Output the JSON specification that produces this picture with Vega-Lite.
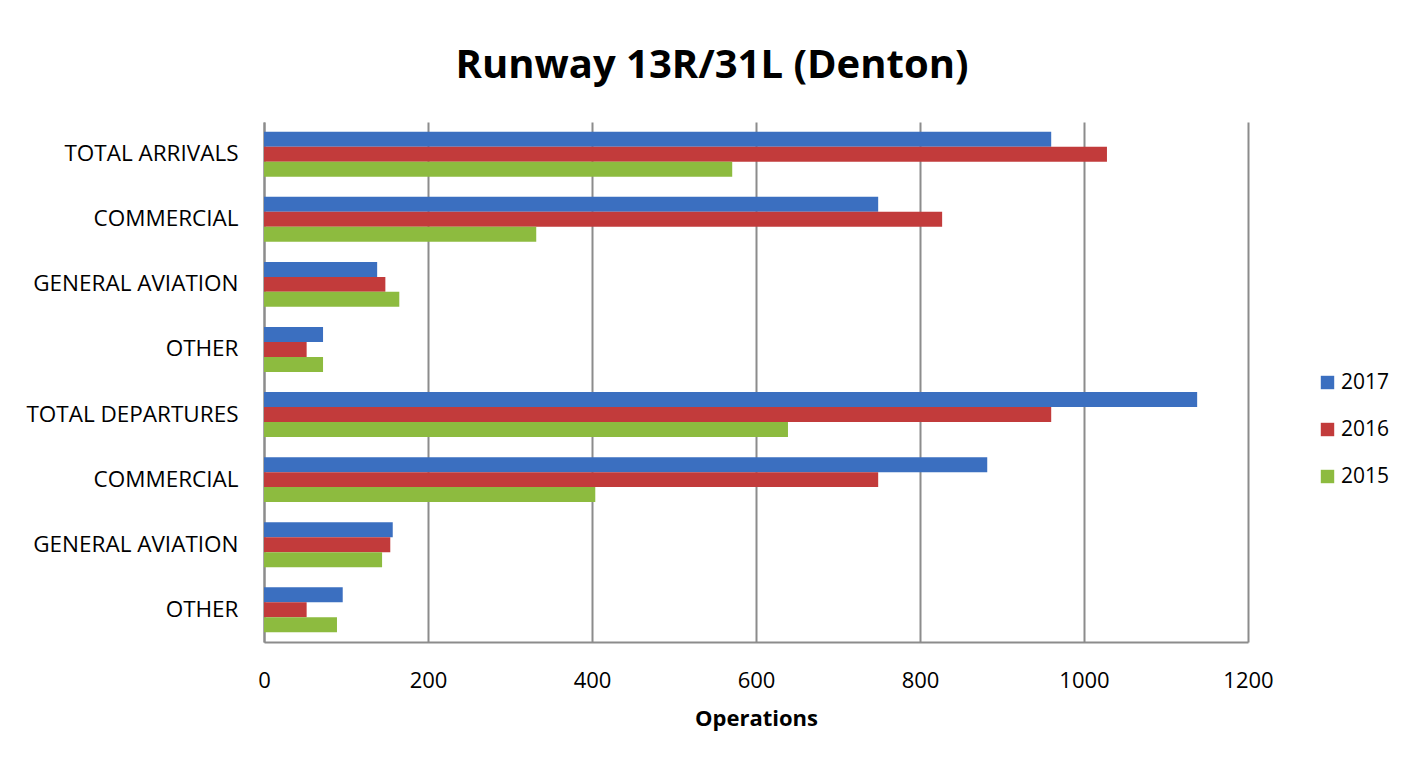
{
  "$schema": "https://vega.github.io/schema/vega-lite/v6.json",
  "width": 984,
  "height": 520,
  "autosize": {"type": "none"},
  "padding": {"left": 264, "top": 122, "right": 165, "bottom": 117},
  "background": "white",
  "title": {
    "text": "Runway 13R/31L (Denton)",
    "font": "Open Sans",
    "fontSize": 40,
    "fontWeight": "bold",
    "color": "#000000",
    "anchor": "middle",
    "dx": -44,
    "offset": 36
  },
  "data": {
    "values": [
      {"key": "A|TOTAL ARRIVALS", "year": "2017", "ops": 960},
      {"key": "A|TOTAL ARRIVALS", "year": "2016", "ops": 1028},
      {"key": "A|TOTAL ARRIVALS", "year": "2015", "ops": 571},
      {"key": "A|COMMERCIAL", "year": "2017", "ops": 749},
      {"key": "A|COMMERCIAL", "year": "2016", "ops": 827},
      {"key": "A|COMMERCIAL", "year": "2015", "ops": 332},
      {"key": "A|GENERAL AVIATION", "year": "2017", "ops": 138},
      {"key": "A|GENERAL AVIATION", "year": "2016", "ops": 148},
      {"key": "A|GENERAL AVIATION", "year": "2015", "ops": 165},
      {"key": "A|OTHER", "year": "2017", "ops": 72},
      {"key": "A|OTHER", "year": "2016", "ops": 52},
      {"key": "A|OTHER", "year": "2015", "ops": 72},
      {"key": "D|TOTAL DEPARTURES", "year": "2017", "ops": 1138},
      {"key": "D|TOTAL DEPARTURES", "year": "2016", "ops": 960},
      {"key": "D|TOTAL DEPARTURES", "year": "2015", "ops": 639},
      {"key": "D|COMMERCIAL", "year": "2017", "ops": 882},
      {"key": "D|COMMERCIAL", "year": "2016", "ops": 749},
      {"key": "D|COMMERCIAL", "year": "2015", "ops": 404},
      {"key": "D|GENERAL AVIATION", "year": "2017", "ops": 157},
      {"key": "D|GENERAL AVIATION", "year": "2016", "ops": 154},
      {"key": "D|GENERAL AVIATION", "year": "2015", "ops": 144},
      {"key": "D|OTHER", "year": "2017", "ops": 96},
      {"key": "D|OTHER", "year": "2016", "ops": 52},
      {"key": "D|OTHER", "year": "2015", "ops": 89}
    ]
  },
  "mark": {"type": "bar"},
  "encoding": {
    "y": {
      "field": "key",
      "type": "nominal",
      "sort": null,
      "scale": {"paddingInner": 0.31, "paddingOuter": 0.15},
      "axis": {
        "title": null,
        "labelExpr": "split(datum.label, '|')[1]",
        "labelFont": "Open Sans",
        "labelFontSize": 22.5,
        "labelColor": "#000000",
        "labelPadding": 26,
        "labelLimit": 400,
        "ticks": false,
        "domainColor": "#8c8c8c",
        "domainWidth": 2,
        "grid": false
      }
    },
    "yOffset": {
      "field": "year",
      "type": "nominal",
      "sort": ["2017", "2016", "2015"]
    },
    "x": {
      "field": "ops",
      "type": "quantitative",
      "scale": {"domain": [0, 1200]},
      "axis": {
        "title": "Operations",
        "titleFont": "Open Sans",
        "titleFontSize": 22,
        "titleFontWeight": "bold",
        "titleColor": "#000000",
        "titlePadding": 17,
        "values": [0, 200, 400, 600, 800, 1000, 1200],
        "format": "d",
        "labelFont": "Open Sans",
        "labelFontSize": 22,
        "labelColor": "#000000",
        "labelPadding": 28,
        "labelFlush": false,
        "labelOverlap": false,
        "ticks": false,
        "domainColor": "#8c8c8c",
        "domainWidth": 2,
        "grid": true,
        "gridColor": "#8c8c8c",
        "gridWidth": 2
      }
    },
    "color": {
      "field": "year",
      "type": "nominal",
      "sort": ["2017", "2016", "2015"],
      "scale": {"domain": ["2017", "2016", "2015"], "range": ["#3B6FC0", "#C23B3B", "#8DBB3F"]},
      "legend": {
        "title": null,
        "orient": "none",
        "legendX": 1053,
        "legendY": 250,
        "symbolType": "square",
        "symbolSize": 180,
        "symbolStrokeWidth": 0,
        "labelFont": "Open Sans",
        "labelFontSize": 21,
        "labelColor": "#000000",
        "rowPadding": 25,
        "labelOffset": 3
      }
    }
  },
  "config": {
    "view": {"stroke": null}
  }
}
